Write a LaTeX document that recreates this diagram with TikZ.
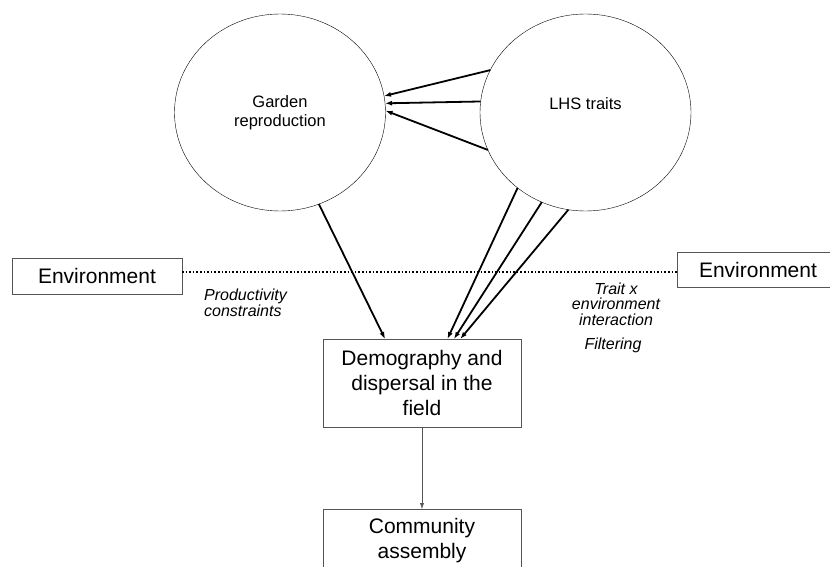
\documentclass[tikz,border=0pt]{standalone}
\usepackage{fontspec}
\setmainfont{Liberation Sans}
\usepackage{xcolor}
\usepackage{tikz}
\usetikzlibrary{arrows.meta,shapes.geometric}
\definecolor{boxgray}{HTML}{555555}

\begin{document}
\begin{tikzpicture}[x=1pt,y=-1pt,
  bubble/.style={ellipse,draw,thin,inner sep=0pt,outer sep=0pt,
    minimum width=211pt,minimum height=197pt,align=center,
    font=\fontsize{16.5}{19}\selectfont},
  stage/.style={rectangle,draw=boxgray,thin,inner sep=0pt,outer sep=0pt,
    align=center,font=\fontsize{21}{25}\selectfont},
  note/.style={font=\fontsize{16}{15.5}\selectfont\itshape,inner sep=0pt},
  link/.style={line width=1.8pt,-{Latex[length=7pt,width=5pt]}}]
  \clip (0,0) rectangle (830,567);
  % the two trait groups
  \node[bubble] (garden) at (280,112.5) {Garden\\reproduction};
  \node[bubble,label={[font=\fontsize{16.5}{19}\selectfont,yshift=9pt]center:LHS traits}]
    (lhs) at (585.5,112.5) {};
  % environment
  \node[stage,minimum width=170pt,minimum height=36pt] (envL) at (97,276) {Environment};
  \node[stage,minimum width=162pt,minimum height=35pt] (envR) at (758,269.5) {Environment};
  \draw[line width=1.6pt,dash pattern=on 1.6pt off 2pt]
    (envL.east |- 0,272) -- (envR.west |- 0,272);
  % field stages
  \node[stage,minimum width=198pt,minimum height=88pt] (demo) at (422,383)
    {Demography and\\dispersal in the\\field};
  \node[stage,minimum width=198pt,minimum height=63pt] (comm) at (422,540.5)
    {Community\\assembly};
  % labels
  \node[note,anchor=north west,align=left] (prod) at (204,289) {Productivity\\constraints};
  \node[note,align=center] (trait) at (616,304) {Trait x\\environment\\interaction};
  \node[note] (filt) at (613,345) {Filtering};
  % arrows
  \draw[link] (lhs.156) -- (garden.9);
  \draw[link] (lhs.174) -- (garden.5);
  \draw[link] (lhs.201) -- (garden.1);
  \draw[link] (garden.293) -- (demo.130);
  \draw[link] (lhs.228) -- (demo.60);
  \draw[link] (lhs.244) -- (demo.54);
  \draw[link] (lhs.260) -- (demo.49);
  \draw[boxgray,thin,-{Latex[length=6pt,width=4pt]}] (demo.south) -- (comm.north);
\end{tikzpicture}
\end{document}
